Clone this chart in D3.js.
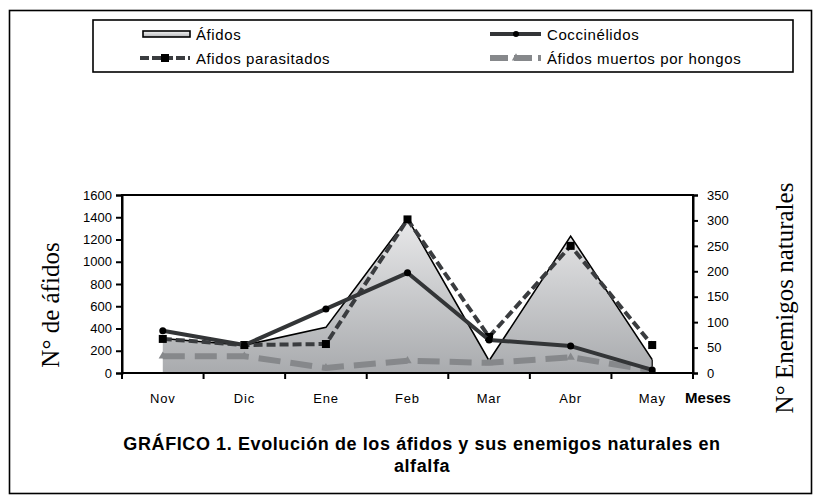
<!DOCTYPE html>
<html>
<head>
<meta charset="utf-8">
<script src="https://cdn.jsdelivr.net/npm/d3@7"></script>
<style>
  body { margin: 0; background: #fff; }
  text { font-family: "Liberation Sans", Arial, sans-serif; }
</style>
</head>
<body>
<script>
// data
var months = ['Nov', 'Dic', 'Ene', 'Feb', 'Mar', 'Abr', 'May']
var afidos = [310, 250, 410, 1390, 110, 1230, 120]          // left axis, area
var coccinelidos = [83, 55, 126, 197, 65, 53, 6]             // right axis
var parasitados = [67, 55, 57, 302, 71, 250, 55]             // right axis
var muertos_hongos = [33, 33, 10, 24, 20, 31, 5]             // right axis
var left_ticks = [0, 200, 400, 600, 800, 1000, 1200, 1400, 1600]
var right_ticks = [0, 50, 100, 150, 200, 250, 300, 350]

var width = 818, height = 502
var plot = {left: 122, right: 693, top: 195, bottom: 373}

var svg = d3.select('body').append('svg').attr('width', width).attr('height', height).attr('id', 'svg0')
svg.append('rect').attr('width', width).attr('height', height).attr('fill', '#fff')

// outer frame
svg.append('rect').attr('x', 9.5).attr('y', 10.5).attr('width', 802).attr('height', 483)
    .attr('fill', 'none').attr('stroke', '#000').attr('stroke-width', 1.6)

var defs = svg.append('defs')
var grad = defs.append('linearGradient').attr('id', 'areagrad')
    .attr('gradientUnits', 'userSpaceOnUse').attr('x1', 0).attr('x2', 0).attr('y1', plot.top).attr('y2', plot.bottom)
grad.append('stop').attr('offset', '0%').attr('stop-color', '#f2f2f3')
grad.append('stop').attr('offset', '100%').attr('stop-color', '#a9abae')
var lgrad = defs.append('linearGradient').attr('id', 'leggrad').attr('x1', 0).attr('x2', 0).attr('y1', 0).attr('y2', 1)
lgrad.append('stop').attr('offset', '0%').attr('stop-color', '#f4f4f4')
lgrad.append('stop').attr('offset', '100%').attr('stop-color', '#b4b5b8')

// scales
var x = d3.scaleBand().domain(months).range([plot.left, plot.right]).paddingInner(0).paddingOuter(0)
var cx = m => x(m) + x.bandwidth() / 2
var yL = d3.scaleLinear().domain([0, 1600]).range([plot.bottom, plot.top])
var yR = d3.scaleLinear().domain([0, 350]).range([plot.bottom, plot.top])

var g = svg.append('g').attr('id', 'plot')

// aphid area
var area = d3.area().x((d, i) => cx(months[i])).y0(yL(0)).y1(d => yL(d))
g.append('path').datum(afidos).attr('d', area).attr('fill', 'url(#areagrad)')
g.append('path').datum(afidos)
    .attr('d', d3.line().x((d, i) => cx(months[i])).y(d => yL(d)))
    .attr('fill', 'none').attr('stroke', '#000').attr('stroke-width', 1.6)
// vertical edge at May
g.append('line').attr('x1', cx('May')).attr('x2', cx('May')).attr('y1', yL(afidos[6])).attr('y2', yL(0))
    .attr('stroke', '#000').attr('stroke-width', 1.2)

function line_right(vals) {
    return d3.line().x((d, i) => cx(months[i])).y(d => yR(d))(vals)
}

// dead by fungi
g.append('path').attr('d', line_right(muertos_hongos))
    .attr('fill', 'none').attr('stroke', '#86888b').attr('stroke-width', 6).attr('stroke-dasharray', '22,10')
g.selectAll('.mh').data(muertos_hongos).enter().append('path').attr('class', 'mh')
    .attr('transform', (d, i) => 'translate(' + cx(months[i]) + ',' + yR(d) + ')')
    .attr('d', d3.symbol(d3.symbolTriangle, 30)).attr('fill', '#86888b')

// parasitised
g.append('path').attr('d', line_right(parasitados))
    .attr('fill', 'none').attr('stroke', '#3a3c3f').attr('stroke-width', 4).attr('stroke-dasharray', '9,4')
g.selectAll('.pa').data(parasitados).enter().append('rect').attr('class', 'pa')
    .attr('x', (d, i) => cx(months[i]) - 4).attr('y', d => yR(d) - 4).attr('width', 8).attr('height', 8).attr('fill', '#000')

// ladybirds
g.append('path').attr('d', line_right(coccinelidos))
    .attr('fill', 'none').attr('stroke', '#333537').attr('stroke-width', 4).attr('stroke-linejoin', 'round')
g.selectAll('.co').data(coccinelidos).enter().append('circle').attr('class', 'co')
    .attr('cx', (d, i) => cx(months[i])).attr('cy', d => yR(d)).attr('r', 3.5).attr('fill', '#000')

// plot frame
g.append('rect').attr('x', plot.left).attr('y', plot.top).attr('width', plot.right - plot.left).attr('height', plot.bottom - plot.top)
    .attr('fill', 'none').attr('stroke', '#000').attr('stroke-width', 2)

// axes
var axL = svg.append('g').attr('transform', 'translate(' + plot.left + ',0)')
    .call(d3.axisLeft(yL).tickValues(left_ticks).tickFormat(d3.format('d')).tickSize(6).tickPadding(4))
var axR = svg.append('g').attr('transform', 'translate(' + plot.right + ',0)')
    .call(d3.axisRight(yR).tickValues(right_ticks).tickSize(5).tickPadding(9))
var xTicks = months.map(m => x(m)).concat([plot.right])
var axB = svg.append('g').attr('transform', 'translate(0,' + plot.bottom + ')')
axB.selectAll('line').data(xTicks).enter().append('line')
    .attr('x1', d => d).attr('x2', d => d).attr('y1', 0).attr('y2', 6).attr('stroke', '#000').attr('stroke-width', 2)
axB.selectAll('text').data(months).enter().append('text')
    .attr('x', d => cx(d)).attr('y', 30).attr('text-anchor', 'middle').attr('font-size', 13)
    .attr('letter-spacing', 0.8).text(d => d)
axB.append('text').attr('x', 708).attr('y', 30).attr('text-anchor', 'middle')
    .attr('font-size', 15).attr('font-weight', 'bold').text('Meses')

;[axL, axR].forEach(ax => {
    ax.select('.domain').attr('stroke-width', 2)
    ax.selectAll('.tick line').attr('stroke-width', 2)
    ax.selectAll('.tick text').attr('font-size', 13).attr('font-family', '"Liberation Sans", Arial, sans-serif').attr('fill', '#000')
})

// axis titles
svg.append('text').attr('transform', 'translate(59,305) rotate(-90)').attr('text-anchor', 'middle')
    .style('font-family', '"Liberation Serif", "Times New Roman", serif').attr('font-size', 25).text('N° de áfidos')
svg.append('text').attr('transform', 'translate(793,298) rotate(-90)').attr('text-anchor', 'middle')
    .style('font-family', '"Liberation Serif", "Times New Roman", serif').attr('font-size', 25).text('N° Enemigos naturales')

// title
svg.append('text').attr('x', 422).attr('y', 450).attr('text-anchor', 'middle').attr('letter-spacing', 0.6)
    .attr('font-size', 18).attr('font-weight', 'bold').text('GRÁFICO 1. Evolución de los áfidos y sus enemigos naturales en')
svg.append('text').attr('x', 422).attr('y', 472).attr('text-anchor', 'middle').attr('letter-spacing', 0.6)
    .attr('font-size', 18).attr('font-weight', 'bold').text('alfalfa')

// legend
var leg = svg.append('g').attr('id', 'legend')
leg.append('rect').attr('x', 93).attr('y', 20).attr('width', 700).attr('height', 52)
    .attr('fill', '#fff').attr('stroke', '#000').attr('stroke-width', 1.6)
leg.append('rect').attr('x', 143).attr('y', 31).attr('width', 47).attr('height', 6)
    .attr('fill', 'url(#leggrad)').attr('stroke', '#000').attr('stroke-width', 1.6)
leg.append('text').attr('x', 196).attr('y', 40).attr('font-size', 15).attr('letter-spacing', 0.6).text('Áfidos')

leg.append('line').attr('x1', 490).attr('x2', 541).attr('y1', 34).attr('y2', 34).attr('stroke', '#333537').attr('stroke-width', 4)
leg.append('circle').attr('cx', 516).attr('cy', 34).attr('r', 3).attr('fill', '#000')
leg.append('text').attr('x', 547).attr('y', 40).attr('font-size', 15).attr('letter-spacing', 0.6).text('Coccinélidos')

leg.append('line').attr('x1', 140).attr('x2', 190).attr('y1', 58).attr('y2', 58).attr('stroke', '#3a3c3f').attr('stroke-width', 4).attr('stroke-dasharray', '9,3')
leg.append('rect').attr('x', 161).attr('y', 54).attr('width', 8).attr('height', 8).attr('fill', '#000')
leg.append('text').attr('x', 196).attr('y', 64).attr('font-size', 15).attr('letter-spacing', 0.6).text('Afidos parasitados')

leg.append('line').attr('x1', 490).attr('x2', 541).attr('y1', 58).attr('y2', 58).attr('stroke', '#86888b').attr('stroke-width', 6).attr('stroke-dasharray', '18,6')
leg.append('path').attr('transform', 'translate(516,58)').attr('d', d3.symbol(d3.symbolTriangle, 30)).attr('fill', '#86888b')
leg.append('text').attr('x', 547).attr('y', 64).attr('font-size', 15).attr('letter-spacing', 0.6).text('Áfidos muertos por hongos')
</script>
</body>
</html>
